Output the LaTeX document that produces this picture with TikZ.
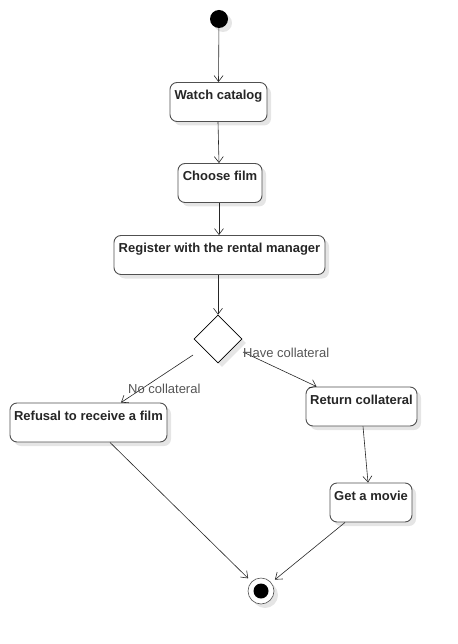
\documentclass[tikz,border=0pt]{standalone}
\usepackage{fontspec}
\setmainfont{Liberation Sans}
\usetikzlibrary{arrows.meta,shapes.geometric,shadows}
\definecolor{edge}{HTML}{505050}
\definecolor{lbl}{HTML}{555555}
\tikzset{
	shade/.style={drop shadow={shadow xshift=4pt, shadow yshift=-4pt, fill=black!10, opacity=1}},
	activity/.style={draw=edge, line width=.9pt, rounded corners=7pt, fill=white, shade,
		font=\fontsize{13}{15}\selectfont\bfseries, text=black!85, inner xsep=2pt, inner ysep=5pt,
		text height=12pt, text depth=17pt, anchor=center},
	flow/.style={draw=black!85, line width=.6pt, -{Straight Barb[length=6pt, width=9pt]}},
	guard/.style={font=\fontsize{13}{15}\selectfont, text=lbl, inner sep=0pt, anchor=west}
}
\begin{document}
\begin{tikzpicture}[x=1pt, y=-1pt]
				\useasboundingbox (0,0) rectangle (457,644);
				\node[circle, fill=black, minimum size=18pt, inner sep=0pt, shade] (start) at (219,19) {};
				\node[activity, minimum width=97pt] (watch) at (218.5,102) {Watch catalog};
				\node[activity, minimum width=84pt] (choose) at (220,183) {Choose film};
				\node[activity, minimum width=211pt] (reg) at (219.5,255) {Register with the rental manager};
				\node[diamond, draw=black, line width=.6pt, fill=white, minimum width=48pt, minimum height=48pt, inner sep=0pt, shade] (dec) at (218,339) {};
				\node[activity, minimum width=157pt] (refuse) at (88.5,422.5) {Refusal to receive a film};
				\node[activity, minimum width=111pt] (ret) at (361.5,406.5) {Return collateral};
				\node[activity, minimum width=82pt] (movie) at (371,502.5) {Get a movie};
				\node[circle, draw=edge, line width=.6pt, fill=white, minimum size=26pt, inner sep=0pt, outer sep=5pt, shade] (fin) at (261,591) {};
				\fill[black] (fin.center) circle (7.5pt);
				\coordinate (hc) at (243,352);
				\coordinate (nc) at (193,355);
				\draw[flow] (start) -- (watch.north);
				\draw[flow] ([xshift=-.5pt]watch.south) -- ([xshift=-1pt]choose.north);
				\draw[flow] ([xshift=-1pt]choose.south) -- ([xshift=-.5pt]reg.north);
				\draw[flow] ([xshift=-1.5pt]reg.south) -- (dec.north);
				\draw[flow] (hc) -- ([xshift=11pt]ret.north west);
				\draw[flow] (nc) -- ([xshift=32.5pt]refuse.north);
				\draw[flow] ([xshift=1.5pt]ret.south) -- ([xshift=-3pt]movie.north);
				\draw[flow] ([xshift=21.5pt]refuse.south) -- (fin);
				\draw[flow] ([xshift=-26pt]movie.south) -- (fin);
				\node[guard] (have) at (243,353) {Have collateral};
				\node[guard] (nocol) at (128,389) {No collateral};
			\end{tikzpicture}
\end{document}
